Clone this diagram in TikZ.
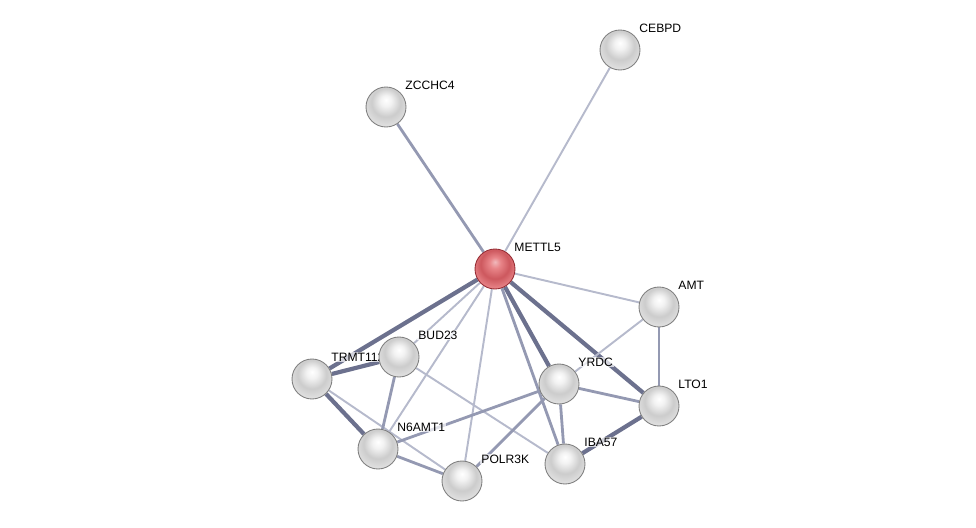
\documentclass[tikz,border=0pt]{standalone}
\usepackage{fontspec}
\setmainfont{Liberation Sans}
\usepackage{tikz}
\usetikzlibrary{backgrounds}
\usepackage{xcolor}
\definecolor{edgelight}{RGB}{182,186,204}
\definecolor{edgemid}{RGB}{148,153,178}
\definecolor{edgedark}{RGB}{108,113,142}
\definecolor{redhi}{RGB}{240,185,188}
\definecolor{redbody}{RGB}{205,88,94}
\definecolor{redlow}{RGB}{232,132,136}
\definecolor{redrim}{RGB}{150,45,52}
\pgfdeclareradialshading{bead}{\pgfpoint{0bp}{9bp}}{color(0bp)=(white); color(7bp)=(white!95!black); color(18bp)=(white!80!black); color(28bp)=(white!88!black); color(33bp)=(white!68!black); color(50bp)=(white!68!black)}
\pgfdeclareradialshading{redbead}{\pgfpoint{0bp}{9bp}}{color(0bp)=(redhi); color(7bp)=(redlow); color(18bp)=(redbody); color(28bp)=(redlow); color(33bp)=(redrim); color(50bp)=(redrim)}

\begin{document}
\begin{tikzpicture}[x=0.02cm,y=-0.02cm,line cap=round,
  protein/.style={circle,minimum size=0.8cm,inner sep=0pt,shading=bead,draw=white!50!black,line width=0.5pt},
  query/.style={protein,shading=redbead,draw=redrim},
  lbl/.style={anchor=west,font=\fontsize{6.9}{8}\selectfont,inner sep=0.6pt,fill=white,fill opacity=0.7,text opacity=1},
  weak/.style={edgelight,line width=1.1pt},
  medium/.style={edgemid,line width=1.6pt},
  strong/.style={edgedark,line width=2.4pt}]
\useasboundingbox (0,0) rectangle (976,527);
\node[protein] (cebpd) at (620,50) {};
\node[lbl] (cebpd-l) at ([shift={(18,-22)}]cebpd.center) {CEBPD};
\node[protein] (zcchc4) at (386,107) {};
\node[lbl] (zcchc4-l) at ([shift={(18,-22)}]zcchc4.center) {ZCCHC4};
\node[query] (mettl5) at (495,269) {};
\node[lbl] (mettl5-l) at ([shift={(18,-22)}]mettl5.center) {METTL5};
\node[protein] (amt) at (659,307) {};
\node[lbl] (amt-l) at ([shift={(18,-22)}]amt.center) {AMT};
\node[protein] (trmt112) at (312,379) {};
\node[lbl] (trmt112-l) at ([shift={(18,-22)}]trmt112.center) {TRMT112};
\node[protein] (bud23) at (399,357) {};
\node[lbl] (bud23-l) at ([shift={(18,-22)}]bud23.center) {BUD23};
\node[protein] (yrdc) at (559,384) {};
\node[lbl] (yrdc-l) at ([shift={(18,-22)}]yrdc.center) {YRDC};
\node[protein] (lto1) at (659,406) {};
\node[lbl] (lto1-l) at ([shift={(18,-22)}]lto1.center) {LTO1};
\node[protein] (n6amt1) at (378,449) {};
\node[lbl] (n6amt1-l) at ([shift={(18,-22)}]n6amt1.center) {N6AMT1};
\node[protein] (iba57) at (565,464) {};
\node[lbl] (iba57-l) at ([shift={(18,-22)}]iba57.center) {IBA57};
\node[protein] (polr3k) at (462,481) {};
\node[lbl] (polr3k-l) at ([shift={(18,-22)}]polr3k.center) {POLR3K};
\begin{scope}[on background layer]
\draw[weak] (mettl5) -- (cebpd);
\draw[medium] (mettl5) -- (zcchc4);
\draw[weak] (mettl5) -- (amt);
\draw[weak] (mettl5) -- (bud23);
\draw[weak] (mettl5) -- (n6amt1);
\draw[weak] (mettl5) -- (polr3k);
\draw[strong] (mettl5) -- (trmt112);
\draw[strong] (mettl5) -- (yrdc);
\draw[medium] (mettl5) -- (iba57);
\draw[strong] (mettl5) -- (lto1);
\draw[strong] (trmt112) -- (bud23);
\draw[strong] (trmt112) -- (n6amt1);
\draw[weak] (trmt112) -- (polr3k);
\draw[medium] (bud23) -- (n6amt1);
\draw[weak] (bud23) -- (iba57);
\draw[medium] (n6amt1) -- (yrdc);
\draw[medium] (n6amt1) -- (polr3k);
\draw[medium] (yrdc) -- (polr3k);
\draw[medium] (yrdc) -- (iba57);
\draw[medium] (yrdc) -- (lto1);
\draw[weak] (yrdc) -- (amt);
\draw[medium] (amt) -- (lto1);
\draw[strong] (lto1) -- (iba57);
\end{scope}
\end{tikzpicture}
\end{document}
